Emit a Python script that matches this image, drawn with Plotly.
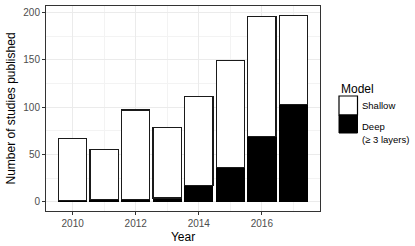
import plotly.graph_objects as go

years = [2010, 2011, 2012, 2013, 2014, 2015, 2016, 2017]
deep = [1, 2, 2, 4, 17, 36, 69, 103]
total = [67, 55, 97, 78, 111, 149, 196, 197]
shallow = [t - d for t, d in zip(total, deep)]
x_ticks = [2010, 2012, 2014, 2016]
y_ticks = [0, 50, 100, 150, 200]

FONT = "Liberation Sans, Arial, Helvetica, sans-serif"

fig = go.Figure()
fig.add_trace(go.Bar(x=years, y=deep, width=[0.9] * len(years), name="Deep",
                     marker=dict(color="black", line=dict(color="black", width=1)),
                     showlegend=False))
fig.add_trace(go.Bar(x=years, y=shallow, width=[0.9] * len(years), name="Shallow",
                     marker=dict(color="white", line=dict(color="#1a1a1a", width=1.2)),
                     showlegend=False))

L, R, T, B = 46, 95, 6, 35
W, H = 415, 246
pw, ph = W - L - R, H - T - B


def px(x):
    return (x - L) / pw


def py(y):
    return (T + ph - y) / ph


fig.update_layout(
    barmode="stack",
    width=W, height=H,
    margin=dict(l=L, r=R, t=T, b=B, autoexpand=False),
    plot_bgcolor="white", paper_bgcolor="white",
    font=dict(family=FONT, color="black"),
    xaxis=dict(range=[2009.155, 2017.845], tickvals=x_ticks,
               ticks="outside", ticklen=3, tickcolor="#333333", tickwidth=1,
               tickfont=dict(size=10, color="#4d4d4d"),
               showgrid=True, gridcolor="#ebebeb", gridwidth=1,
               minor=dict(dtick=1, tick0=2011, showgrid=True, gridcolor="#f3f3f3", gridwidth=0.6, ticks=""),
               showline=True, linecolor="#333333", linewidth=1, mirror=True,
               zeroline=False,
               title=dict(text="Year", font=dict(size=12), standoff=4)),
    yaxis=dict(range=[-9.85, 206.85], tickvals=y_ticks,
               ticks="outside", ticklen=3, tickcolor="#333333", tickwidth=1,
               tickfont=dict(size=10, color="#4d4d4d"),
               showgrid=True, gridcolor="#ebebeb", gridwidth=1,
               minor=dict(dtick=25, tick0=25, showgrid=True, gridcolor="#f3f3f3", gridwidth=0.6, ticks=""),
               showline=True, linecolor="#333333", linewidth=1, mirror=True,
               zeroline=False,
               title=dict(text="Number of studies published", font=dict(size=12), standoff=5)),
)

# legend drawn manually
fig.add_shape(type="rect", xref="paper", yref="paper",
              x0=px(339), x1=px(357.5), y0=py(115), y1=py(96),
              fillcolor="white", line=dict(color="black", width=1.2))
fig.add_shape(type="rect", xref="paper", yref="paper",
              x0=px(339), x1=px(357.5), y0=py(133), y1=py(115),
              fillcolor="black", line=dict(color="black", width=1))
fig.add_annotation(xref="paper", yref="paper", x=px(339), y=py(89), text="Model",
                   showarrow=False, xanchor="left", yanchor="middle",
                   font=dict(size=12, color="black"))
fig.add_annotation(xref="paper", yref="paper", x=px(360), y=py(105.5), text="Shallow",
                   showarrow=False, xanchor="left", yanchor="middle",
                   font=dict(size=9.5, color="black"))
fig.add_annotation(xref="paper", yref="paper", x=px(360), y=py(126), text="Deep",
                   showarrow=False, xanchor="left", yanchor="middle",
                   font=dict(size=9.5, color="black"))
fig.add_annotation(xref="paper", yref="paper", x=px(360), y=py(139.5), text="(≥ 3 layers)",
                   showarrow=False, xanchor="left", yanchor="middle",
                   font=dict(size=9.5, color="black"))

fig.write_html("out.html", config={"displayModeBar": False},
               post_script="document.body.style.margin='0';document.body.style.overflow='hidden';")
